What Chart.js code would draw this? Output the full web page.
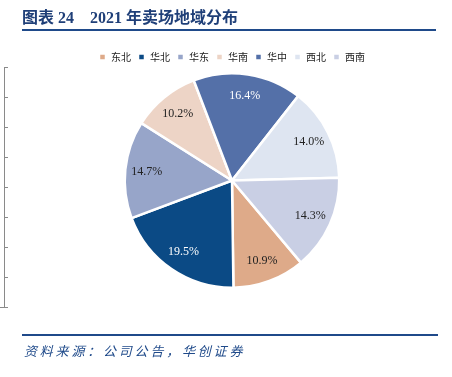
<!DOCTYPE html>
<html>
<head>
<meta charset="utf-8">
<script src="https://cdn.jsdelivr.net/npm/chart.js@4"></script>
<style>
  body { margin: 0; background: #fff; }
  #wrap { position: relative; width: 452px; height: 377px; overflow: hidden; }
  #myChart { position: absolute; left: 0; top: 0; }
  .title {
    position: absolute; left: 22px; top: 7px; width: 414px; height: 22px;
    border-bottom: 2px solid #1F4A8A;
    font-family: "Liberation Serif", "Noto Sans CJK SC", serif;
    font-weight: bold; font-size: 16px; color: #1F3F78; line-height: 22px;
    white-space: pre;
  }
  .foot {
    position: absolute; left: 22px; top: 334px; width: 414px;
    border-top: 2px solid #1F4A8A;
    font-family: "Noto Sans CJK SC", sans-serif; font-style: italic;
    font-size: 13px; letter-spacing: 2.8px; color: #1F4A8A;
    padding-top: 5px; padding-left: 2px;
  }
</style>
</head>
<body>
<div id="wrap">
  <canvas id="myChart" width="452" height="377"></canvas>
  <div class="title">图表 24    2021 年卖场地域分布</div>
  <div class="foot">资料来源：公司公告，华创证券</div>
</div>
<script>
// 2021 store share by region (%)
const regions = ['东北', '华北', '华东', '华南', '华中', '西北', '西南'];
const shares = [10.9, 19.5, 14.7, 10.2, 16.4, 14.0, 14.3];
const sliceColors = ['#DEAA89', '#0B4A85', '#97A5C9', '#EDD4C6', '#5470A8', '#DEE5F1', '#C9CFE4'];
const labelColors = ['#222', '#fff', '#222', '#222', '#fff', '#222', '#222'];

// percent labels inside each slice
const sliceLabels = {
    id: 'sliceLabels',
    afterDatasetsDraw(chart) {
        const ctx = chart.ctx;
        const meta = chart.getDatasetMeta(0);
        ctx.save();
        ctx.font = '12px "Liberation Serif", serif';
        ctx.textAlign = 'center';
        ctx.textBaseline = 'middle';
        meta.data.forEach(function(arc, i) {
            const mid = (arc.startAngle + arc.endAngle) / 2;
            const r = arc.outerRadius * 0.8;
            ctx.fillStyle = labelColors[i];
            ctx.fillText(shares[i].toFixed(1) + '%', arc.x + Math.cos(mid) * r, arc.y + Math.sin(mid) * r);
        });
        ctx.restore();
    }
};

// stray vertical axis left over on the left edge
const leftAxis = {
    id: 'leftAxis',
    afterDraw(chart) {
        const ctx = chart.ctx;
        ctx.save();
        ctx.strokeStyle = '#8a8a8a';
        ctx.lineWidth = 1;
        ctx.beginPath();
        ctx.moveTo(4.5, 67);
        ctx.lineTo(4.5, 308);
        for (let k = 0; k < 8; k++) {
            const y = 67.5 + k * 30;
            ctx.moveTo(4, y);
            ctx.lineTo(8, y);
        }
        ctx.moveTo(0, 307.5);
        ctx.lineTo(8, 307.5);
        ctx.stroke();
        ctx.restore();
    }
};

const ctx = document.getElementById('myChart').getContext('2d');
const myChart = new Chart(ctx, {
    type: 'pie',
    data: {
        labels: regions,
        datasets: [{
            data: shares,
            backgroundColor: sliceColors,
            borderColor: '#ffffff',
            borderWidth: 2.5
        }]
    },
    options: {
        responsive: false,
        animation: false,
        rotation: 140,
        layout: { padding: { top: 45, bottom: 88, left: 12, right: 0 } },
        plugins: {
            legend: {
                position: 'top',
                labels: {
                    boxWidth: 7,
                    boxHeight: 7,
                    padding: 7,
                    color: '#222',
                    font: { family: '"Noto Sans CJK SC", sans-serif', size: 10 }
                }
            },
            tooltip: { enabled: false }
        }
    },
    plugins: [sliceLabels, leftAxis]
});
</script>
</body>
</html>
